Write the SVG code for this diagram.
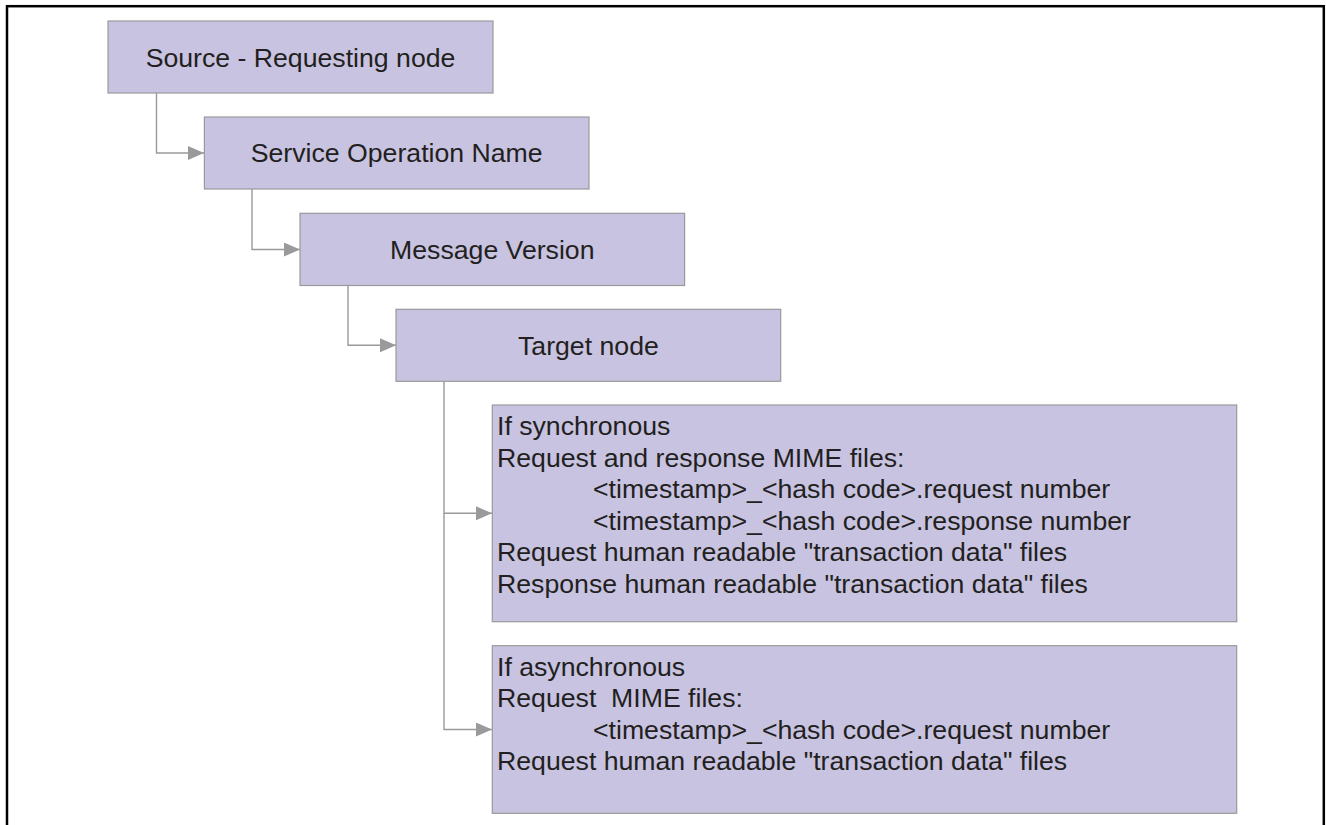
<svg xmlns="http://www.w3.org/2000/svg" width="1326" height="825" viewBox="0 0 1326 825">
<style>
.box{fill:#c7c3e1;stroke:#9a9a9a;stroke-width:1.2}
.lbl{font-family:"Liberation Sans",Arial,sans-serif;font-size:26.67px;fill:#231f20}
.c{text-anchor:middle}
.conn{fill:none;stroke:#9a9a9a;stroke-width:1.4}
</style>
<defs>
<marker id="arr" markerWidth="16" markerHeight="14" refX="16" refY="7" orient="auto" markerUnits="userSpaceOnUse">
<path d="M0,0 L16,7 L0,14 Z" fill="#9a9a9a"/>
</marker>
</defs>
<rect x="7" y="6.2" width="1316.8" height="900" fill="#ffffff" stroke="#000000" stroke-width="2.5"/>
<g id="connectors">
<path class="conn" d="M156.5,93 V153 H204" marker-end="url(#arr)"/>
<path class="conn" d="M252,189 V249.5 H300" marker-end="url(#arr)"/>
<path class="conn" d="M348,285.5 V345.3 H396" marker-end="url(#arr)"/>
<path class="conn" d="M444,381.3 V513.3 H492" marker-end="url(#arr)"/>
<path class="conn" d="M444,513.3 V729.5 H492" marker-end="url(#arr)"/>
</g>
<g id="node-source">
<rect class="box" x="108" y="21" width="385" height="72"/>
<text class="lbl c" x="300.5" y="66.5">Source - Requesting node</text>
</g>
<g id="node-service">
<rect class="box" x="204.4" y="117" width="384.6" height="72"/>
<text class="lbl c" x="396.7" y="162.3">Service Operation Name</text>
</g>
<g id="node-message">
<rect class="box" x="300" y="213.3" width="384.6" height="72.2"/>
<text class="lbl c" x="492.3" y="258.8">Message Version</text>
</g>
<g id="node-target">
<rect class="box" x="396" y="309.3" width="384.7" height="72"/>
<text class="lbl c" x="588.4" y="354.6">Target node</text>
</g>
<g id="node-sync">
<rect class="box" x="492.3" y="405" width="744.4" height="216.7"/>
<text class="lbl" x="497" y="435">If synchronous</text>
<text class="lbl" x="497" y="466.6">Request and response MIME files:</text>
<text class="lbl" x="593" y="498.2">&lt;timestamp&gt;_&lt;hash code&gt;.request number</text>
<text class="lbl" x="593" y="529.8">&lt;timestamp&gt;_&lt;hash code&gt;.response number</text>
<text class="lbl" x="497" y="561.4">Request human readable "transaction data" files</text>
<text class="lbl" x="497" y="593">Response human readable "transaction data" files</text>
</g>
<g id="node-async">
<rect class="box" x="492.3" y="645.7" width="744.4" height="167.6"/>
<text class="lbl" x="497" y="675.5">If asynchronous</text>
<text class="lbl" x="497" y="707.1" xml:space="preserve">Request  MIME files:</text>
<text class="lbl" x="593" y="738.7">&lt;timestamp&gt;_&lt;hash code&gt;.request number</text>
<text class="lbl" x="497" y="770.3">Request human readable "transaction data" files</text>
</g>
</svg>
